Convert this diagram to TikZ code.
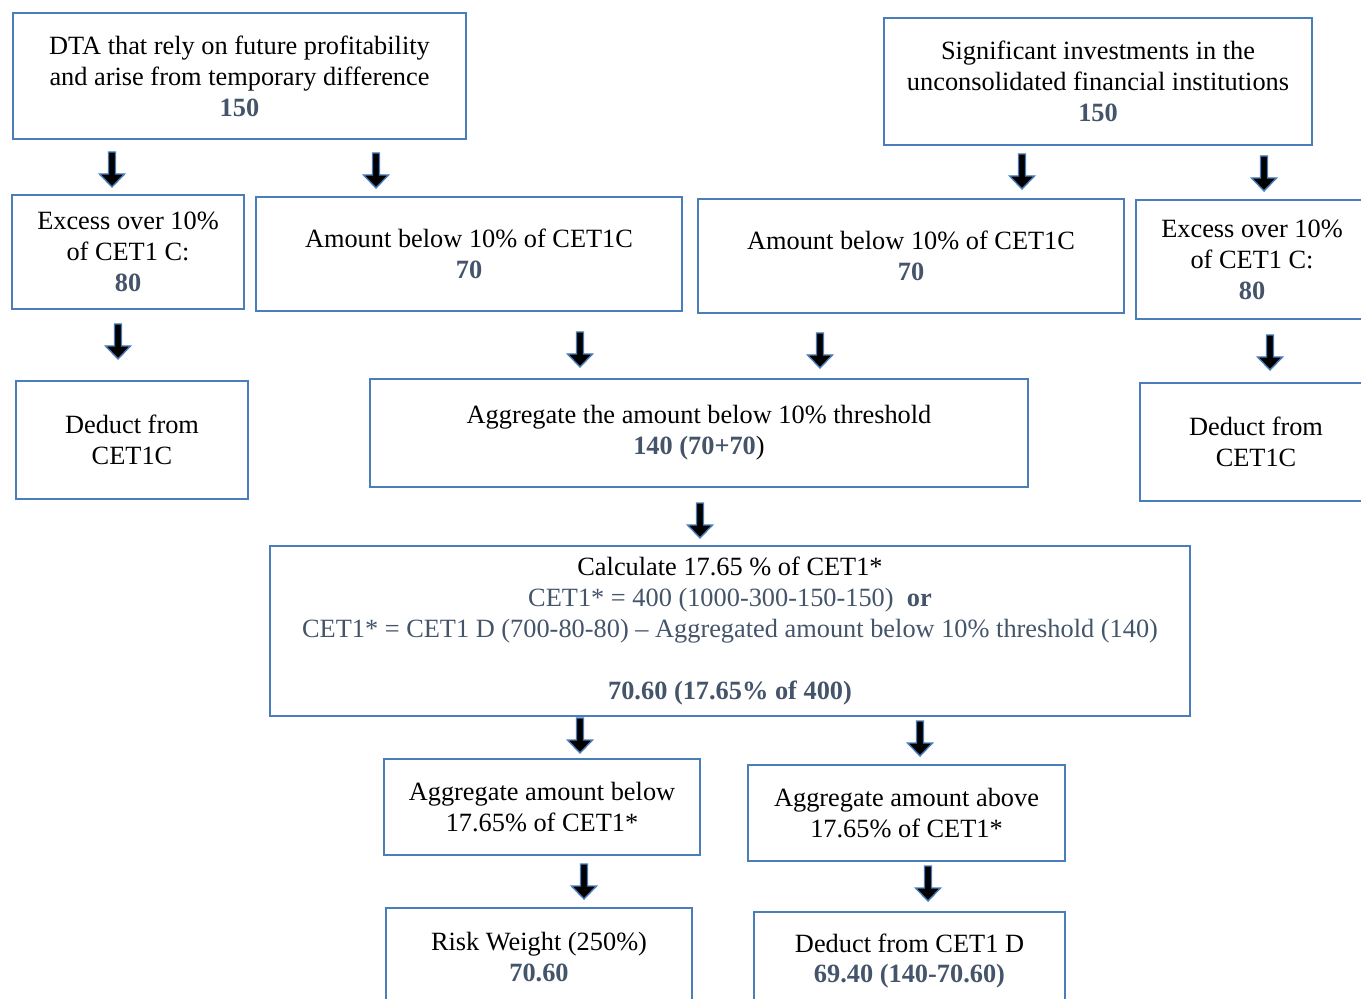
\documentclass[tikz,border=0pt]{standalone}
\usepackage{fontspec}
\setmainfont{Liberation Serif}
\usetikzlibrary{positioning}

\definecolor{boxblue}{RGB}{74,126,187}
\definecolor{valblue}{RGB}{68,84,106}
\newcommand\numv[1]{\textcolor{valblue}{\textbf{#1}}}

\tikzset{
  box/.style={draw=boxblue, line width=1.3pt, align=center, inner sep=0pt,
              font=\fontsize{15}{17.6}\selectfont},
  blockarrow/.style={fill=black, draw=boxblue, line width=0.8pt, line join=miter}
}

\begin{document}
\begin{tikzpicture}[x=0.02cm,y=-0.02cm]
    \useasboundingbox (0,0) rectangle (1361,999);
    % first row
    \node[box, minimum width=9.06cm, minimum height=2.52cm] (dta) at (239.5,76)
        {DTA that rely on future profitability\\ and arise from temporary difference\\ \numv{150}};
    \node[box, minimum width=8.56cm, minimum height=2.54cm] (sig) at (1098,81.5)
        {Significant investments in the\\ unconsolidated financial institutions\\ \numv{150}};
    % second row
    \node[box, minimum width=4.64cm, minimum height=2.28cm] (excess_l) at (128,252)
        {Excess over 10\%\\ of CET1 C:\\ \numv{80}};
    \node[box, minimum width=8.52cm, minimum height=2.28cm] (below_l) at (469,254)
        {Amount below 10\% of CET1C\\ \numv{70}};
    \node[box, minimum width=8.52cm, minimum height=2.28cm] (below_r) at (911,256)
        {Amount below 10\% of CET1C\\ \numv{70}};
    \node[box, minimum width=4.64cm, minimum height=2.38cm] (excess_r) at (1252,259.5)
        {Excess over 10\%\\ of CET1 C:\\ \numv{80}};
    % third row
    \node[box, minimum width=4.64cm, minimum height=2.36cm] (deduct_l) at (132,440)
        {Deduct from\\ CET1C};
    \node[box, minimum width=13.16cm, minimum height=2.16cm] (aggr) at (699,433)
        {Aggregate the amount below 10\% threshold\\ \numv{140 (70+70})};
    \node[box, minimum width=4.64cm, minimum height=2.36cm] (deduct_r) at (1256,442)
        {Deduct from\\ CET1C};
    % threshold
    \node[box, minimum width=18.4cm, minimum height=3.4cm] (calc) at (730,631)
        {Calculate 17.65 \% of CET1*\\
         \textcolor{valblue}{CET1* = 400 (1000-300-150-150)\ \ \textbf{or}}\\
         \textcolor{valblue}{CET1* = CET1 D (700-80-80) -- Aggregated amount below 10\% threshold (140)}\\
         \mbox{}\\
         \numv{70.60 (17.65\% of 400)}};
    % last rows
    \node[box, minimum width=6.32cm, minimum height=1.92cm] (agg_below) at (542,807)
        {Aggregate amount below\\ 17.65\% of CET1*};
    \node[box, minimum width=6.34cm, minimum height=1.92cm] (agg_above) at (906.5,813)
        {Aggregate amount above\\ 17.65\% of CET1*};
    \node[box, minimum width=6.12cm, minimum height=1.96cm] (risk) at (539,957)
        {Risk Weight (250\%)\\ \numv{70.60}};
    \node[box, minimum width=6.22cm, minimum height=1.96cm] (deduct_d) at (909.5,961)
        {Deduct from CET1 D\\ \numv{69.40 (140-70.60)}};
    % block arrows
    \foreach \ax/\ay in {112/152, 376/153, 1022/154, 1264/156,
                         118/324, 580/332, 820/333, 1270/335,
                         700/503, 580/718, 920/721, 584/864, 928/866}
        \draw[blockarrow] (\ax-3.5,\ay) -- (\ax+3.5,\ay) -- (\ax+3.5,\ay+22)
            -- (\ax+12.5,\ay+22) -- (\ax,\ay+35) -- (\ax-12.5,\ay+22)
            -- (\ax-3.5,\ay+22) -- cycle;
\end{tikzpicture}
\end{document}
